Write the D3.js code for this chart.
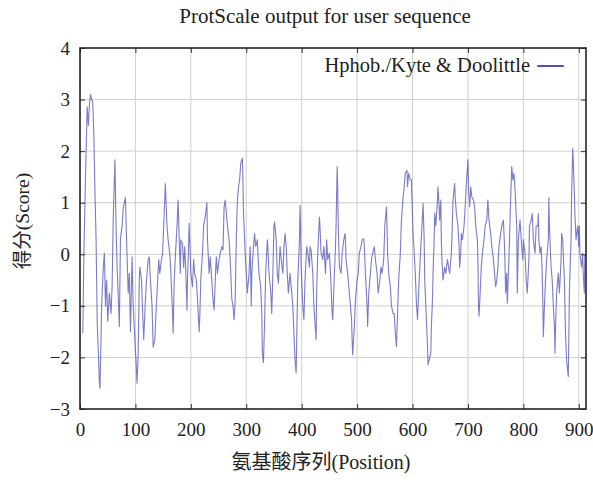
<!DOCTYPE html>
<html>
<head>
<meta charset="utf-8">
<script src="https://cdn.jsdelivr.net/npm/d3@7"></script>
<style>
  body { margin: 0; background: #fff; }
  svg { display: block; }
  .grid line { stroke: #cfcfcf; stroke-width: 1; }
</style>
</head>
<body>
<svg id="chart" width="593" height="482"></svg>
<script>
// Kyte & Doolittle hydrophobicity profile
const positions = [
  5,7,9,11,13,15,17,19,21,23,25,27,29,31,33,35,36,38,39,41,42,44,46,48,50,53,56,58,60,63,65,67,71,73,76,78,82,84,87,89,91,94,96,99,101,103,105,107,108,111,113,115,118,120,123,125,127,130,132,135,137,139,142,144,147,149,151,154,
  157,159,162,164,167,168,170,173,175,177,179,181,182,185,187,189,191,193,194,197,198,200,203,205,207,210,212,215,216,218,221,223,226,229,230,233,235,237,240,242,245,246,248,251,253,256,258,260,262,264,266,269,271,274,276,278,280,282,284,286,288,290,293,294,295,298,300,302,305,307,
  308,309,310,313,315,317,320,321,323,326,328,329,331,333,335,338,339,341,344,346,348,350,351,354,356,358,361,363,366,368,370,372,374,376,379,381,384,386,388,390,391,393,396,397,398,399,402,404,406,409,411,414,415,417,420,422,424,426,427,429,432,433,435,438,440,443,445,447,450,452,455,456,
  459,461,462,464,465,466,468,471,473,476,478,479,480,483,485,488,490,491,492,495,497,500,502,504,507,509,512,513,515,518,519,521,524,526,528,531,533,536,538,541,543,545,548,550,553,554,555,557,560,562,565,567,569,571,573,575,578,580,583,585,587,590,591,593,596,598,599,601,603,605,607,609,
  612,615,617,619,621,622,624,627,628,630,633,634,636,637,639,640,642,645,646,648,649,651,652,653,655,658,660,663,665,667,670,671,673,676,677,679,682,684,685,687,688,690,693,695,697,700,701,703,705,707,710,712,714,717,718,719,720,722,724,726,729,731,734,736,738,741,743,746,748,750,752,754,756,759,761,764,766,767,
  768,770,771,773,775,777,779,781,783,785,787,788,789,791,793,794,797,799,800,803,805,807,810,811,814,816,818,821,823,826,827,828,830,832,834,835,836,838,840,842,845,846,847,850,852,854,856,857,858,860,863,865,868,869,871,874,875,876,878,881,882,883,886,887,888,889,890,892,893,895,898,900,901,902,905,907,908,910,911
];
const scores = [
  -1.53,0.0,1.05,2.0,2.86,2.5,2.9,3.1,3.0,2.95,2.3,1.2,0.3,-1.3,-1.9,-2.5,-2.6,-1.6,-1.0,-0.5,-0.25,0.02,-1.0,-0.5,-1.3,-0.75,-1.15,-0.6,0.73,1.83,0.55,-0.25,-1.4,0.3,0.55,0.9,1.1,0.28,-0.75,-0.37,-1.5,-0.05,-1.0,-1.65,-2.05,-2.5,-1.9,-0.5,-0.25,-0.5,-1.15,-1.65,-0.88,-0.5,-0.1,-0.05,-0.5,-1.0,-1.8,-1.65,-1.15,-0.75,-0.1,-0.37,-0.1,0.02,0.55,1.37,
  0.55,0.28,0.02,-0.37,-1.15,-1.53,-0.5,0.15,0.55,1.05,0.28,-0.37,0.28,0.2,-0.25,0.15,-0.37,-1.08,-0.5,0.6,0.28,-0.37,-0.63,-0.1,-0.37,-0.5,-0.88,-1.5,-1.27,-0.5,0.02,0.55,0.73,1.0,0.28,-0.37,-0.05,-0.37,-0.88,-1.08,-0.25,-0.05,-0.37,-0.1,0.02,0.15,0.08,0.92,1.05,0.8,0.55,0.28,-0.1,-0.88,-1.0,-1.27,-0.88,0.28,1.05,1.31,1.44,1.76,1.86,1.44,0.8,0.02,-0.37,-0.75,-0.37,0.15,
  -0.37,-1.0,-0.37,0.15,0.4,0.15,0.28,0.02,-0.37,-0.63,-1.15,-1.9,-2.1,-1.34,-0.37,0.28,0.15,-0.37,-0.7,-1.15,-0.37,0.55,0.63,0.28,-0.37,-0.56,0.15,-0.1,-0.37,0.15,0.4,0.15,-0.37,-0.75,-0.37,-0.63,-1.0,-1.53,-2.05,-2.3,-1.65,-0.5,0.28,0.95,0.55,-0.25,-1.0,-1.27,-0.5,0.15,0.02,-0.25,0.15,0.08,-0.37,-1.0,-1.34,-1.65,-0.75,0.02,0.72,0.55,0.02,-0.1,0.15,-0.37,0.28,-0.1,0.02,-0.37,-1.15,-1.27,
  -0.37,0.15,0.55,1.7,1.24,0.55,-0.25,-0.37,0.02,0.28,0.4,0.28,-0.1,-0.37,-0.63,-1.0,-1.27,-1.65,-1.95,-1.4,-0.88,-0.5,-0.37,0.02,0.15,0.28,0.3,0.15,-0.37,-1.0,-1.4,-0.75,-0.37,-0.1,0.02,0.15,-0.1,-0.37,-0.75,-0.5,-0.25,-0.37,-0.1,0.55,0.92,0.55,0.02,-0.37,-0.63,-1.0,-1.15,-1.15,-1.53,-1.79,-1.15,-0.5,0.02,0.66,1.11,1.31,1.57,1.63,1.31,1.57,1.44,1.44,1.05,0.4,0.02,-0.37,-0.95,-1.27,
  -0.5,0.15,0.55,0.99,0.28,-0.5,-1.0,-1.79,-2.14,-2.05,-1.9,-1.4,-0.88,-0.37,0.28,0.8,0.55,1.05,1.31,0.92,0.66,1.05,0.28,-0.1,-0.5,-0.25,-0.37,-0.1,-0.25,-0.37,0.02,0.28,1.05,1.37,1.11,0.8,0.55,0.15,-0.25,0.02,0.4,0.28,0.55,0.92,1.37,1.83,1.31,0.92,1.31,1.11,1.05,0.92,0.55,0.28,-0.1,-1.0,-1.2,-0.75,-0.25,0.02,0.28,0.55,0.66,1.05,0.66,0.4,0.15,-0.1,-0.37,-0.63,-0.5,-0.25,0.15,0.4,0.55,0.66,0.15,-0.25,
  -0.75,-0.37,-0.95,-0.37,0.28,1.05,1.7,1.44,1.57,1.24,0.79,0.55,-0.75,0.28,0.55,0.66,0.15,-0.1,0.28,0.02,-0.5,-0.75,-0.1,0.55,0.66,0.79,0.28,0.02,0.55,0.55,0.79,0.28,0.02,0.15,-0.37,-0.88,-1.6,-1.0,-0.5,-0.1,0.28,1.1,0.55,-0.25,-0.5,-1.0,-1.4,-1.92,-1.4,-0.75,-0.37,-0.75,-0.1,0.4,0.28,-0.5,-1.0,-1.53,-2.05,-2.37,-1.65,-0.75,0.28,1.1,1.57,2.05,1.83,1.18,0.79,0.28,0.55,0.15,0.55,0.02,-0.25,0.02,-0.37,-0.75,0.0
];
const xTicks = [0, 100, 200, 300, 400, 500, 600, 700, 800, 900];
const yTicks = [-3, -2, -1, 0, 1, 2, 3, 4];

const chartTitle = "ProtScale output for user sequence";
const seriesName = "Hphob./Kyte & Doolittle";
const xTitle = "氨基酸序列(Position)";
const yTitle = "得分(Score)";

const serif = "'Liberation Serif', serif";
const cjk = "'Noto Sans CJK SC', sans-serif";
const lineColor = "#4e52b0";

const width = 593, height = 482;
const margin = {top: 48, right: 7, bottom: 73, left: 80};
const innerW = width - margin.left - margin.right;
const innerH = height - margin.top - margin.bottom;

const svg = d3.select("#chart");
const g = svg.append("g").attr("transform", `translate(${margin.left},${margin.top})`);

const x = d3.scaleLinear().domain([0, 913]).range([0, innerW]);
const y = d3.scaleLinear().domain([-3, 4]).range([innerH, 0]);

// grid
g.append("g").attr("class", "grid")
  .selectAll("line").data(xTicks.filter(d => d > 0)).enter().append("line")
  .attr("x1", d => x(d)).attr("x2", d => x(d))
  .attr("y1", 0).attr("y2", innerH);
g.append("g").attr("class", "grid")
  .selectAll("line").data(yTicks.filter(d => d > -3 && d < 4)).enter().append("line")
  .attr("x1", 0).attr("x2", innerW)
  .attr("y1", d => y(d)).attr("y2", d => y(d));

// profile line
const pts = positions.map((p, i) => [p, scores[i]]);
const line = d3.line().x(d => x(d[0])).y(d => y(d[1]));
g.append("path")
  .datum(pts)
  .attr("d", line)
  .attr("fill", "none")
  .attr("stroke", lineColor)
  .attr("stroke-opacity", 0.75)
  .attr("stroke-width", 1.1)
  .attr("stroke-linejoin", "round");

// axes (gnuplot style: inward ticks, mirrored)
const fmt = d => d < 0 ? "\u2212" + Math.abs(d) : String(d);
const axisB = g.append("g").attr("transform", `translate(0,${innerH})`)
  .call(d3.axisBottom(x).tickValues(xTicks).tickSize(-5).tickPadding(14).tickFormat(fmt));
const axisL = g.append("g")
  .call(d3.axisLeft(y).tickValues(yTicks).tickSize(-5).tickPadding(10).tickFormat(fmt));
const axisT = g.append("g")
  .call(d3.axisTop(x).tickValues(xTicks).tickSize(-5).tickFormat(""));
const axisR = g.append("g").attr("transform", `translate(${innerW},0)`)
  .call(d3.axisRight(y).tickValues(yTicks).tickSize(-5).tickFormat(""));

[axisB, axisL, axisT, axisR].forEach(a => {
  a.select(".domain").remove();
  a.selectAll(".tick line").attr("stroke", "#333").attr("stroke-width", 1);
  a.selectAll(".tick text").attr("font-size", 19).attr("fill", "#222")
    .attr("font-family", serif);
});

// border box
g.append("rect")
  .attr("x", 0).attr("y", 0)
  .attr("width", innerW).attr("height", innerH)
  .attr("fill", "none").attr("stroke", "#222").attr("stroke-width", 1.6);

// legend
g.append("text")
  .attr("x", x(812)).attr("y", 24)
  .attr("text-anchor", "end")
  .attr("font-family", serif)
  .attr("font-size", 20.5)
  .attr("fill", "#222")
  .text(seriesName);
g.append("line")
  .attr("x1", x(825)).attr("x2", x(873))
  .attr("y1", 18).attr("y2", 18)
  .attr("stroke", lineColor).attr("stroke-width", 2);

// titles
svg.append("text")
  .attr("x", 325).attr("y", 23)
  .attr("text-anchor", "middle")
  .attr("font-family", serif)
  .attr("font-size", 21)
  .attr("fill", "#222")
  .text(chartTitle);

// mixed CJK / Latin labels: CJK glyphs in Noto, the rest in serif
function mixedText(sel, str) {
  const parts = str.match(/[\u4e00-\u9fff]+|[^\u4e00-\u9fff]+/g);
  sel.selectAll("tspan").data(parts).enter().append("tspan")
    .attr("font-family", d => /[\u4e00-\u9fff]/.test(d) ? cjk : serif)
    .text(d => d);
}

svg.append("text")
  .attr("x", 321).attr("y", 469)
  .attr("text-anchor", "middle")
  .attr("font-size", 20)
  .attr("fill", "#222")
  .call(mixedText, xTitle);
svg.append("text")
  .attr("transform", `translate(29,221) rotate(-90)`)
  .attr("text-anchor", "middle")
  .attr("font-size", 19.5)
  .attr("fill", "#222")
  .call(mixedText, yTitle);
</script>
</body>
</html>
